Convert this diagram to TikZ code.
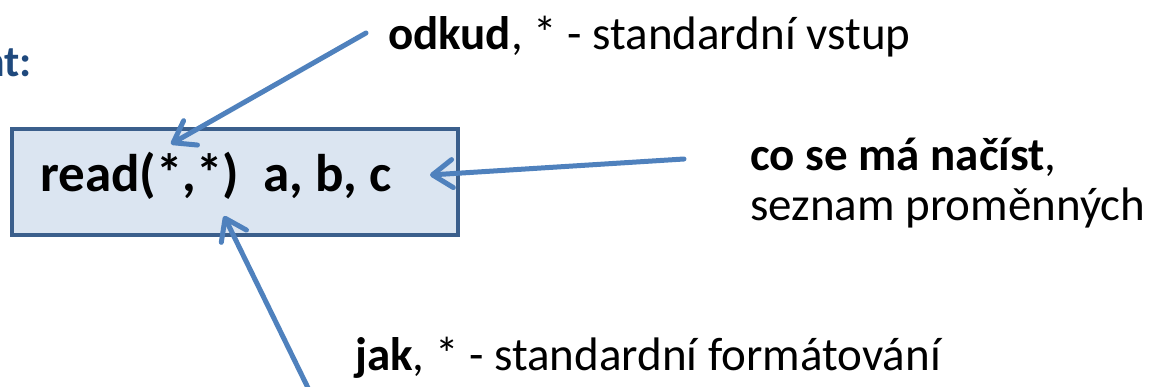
\documentclass[tikz,border=0pt]{standalone}
\usepackage{fontspec}
\setmainfont{Carlito}
\usetikzlibrary{arrows.meta}
\definecolor{arrowblue}{HTML}{4F81BD}
\definecolor{boxfill}{HTML}{DBE5F1}
\definecolor{boxline}{HTML}{3B5F8C}
\definecolor{titleblue}{HTML}{1F497D}
\tikzset{
  pointer/.style={draw=arrowblue, line width=5pt, line cap=round,
    -{Straight Barb[length=20pt, width=28pt, line width=5pt, round]}},
  label/.style={inner sep=0pt, anchor=base west, font=\fontsize{47}{50}\selectfont},
}
\begin{document}
\begin{tikzpicture}[x=1pt,y=-1pt]
\useasboundingbox (0,0) rectangle (1155,387);
\clip (0,0) rectangle (1155,387);
\node[inner sep=0pt, anchor=base east, text=titleblue, font=\fontsize{44}{48}\selectfont\bfseries] (title) at (32,77) {nt:};
\node[draw=boxline, fill=boxfill, line width=3.5pt, minimum width=446pt, minimum height=106pt, inner sep=0pt] (box) at (235,182) {};
\node[inner sep=0pt, anchor=base west, font=\fontsize{53}{56}\selectfont\bfseries] (code) at (40,192) {read(*,*)\ \ a, b, c};
\coordinate (tipA) at (171,144);
\coordinate (tipB) at (430,175);
\coordinate (tipC) at (224,216);
\coordinate (startC) at (310,392);
\node[label] (odkud) at (388,50) {\textbf{odkud}, * - standardní vstup};
\node[label, align=left] (co) at (750,221) {\textbf{co se má načíst},\\seznam proměnných};
\node[label] (jak) at (355,370) {\textbf{jak}, * - standardní formátování};
\coordinate (startA) at (366,33);
\coordinate (startB) at (684,159);
\draw[pointer] (startA) -- (tipA);
\draw[pointer] (startB) -- (tipB);
\draw[pointer] (startC) -- (tipC);
\end{tikzpicture}
\end{document}
